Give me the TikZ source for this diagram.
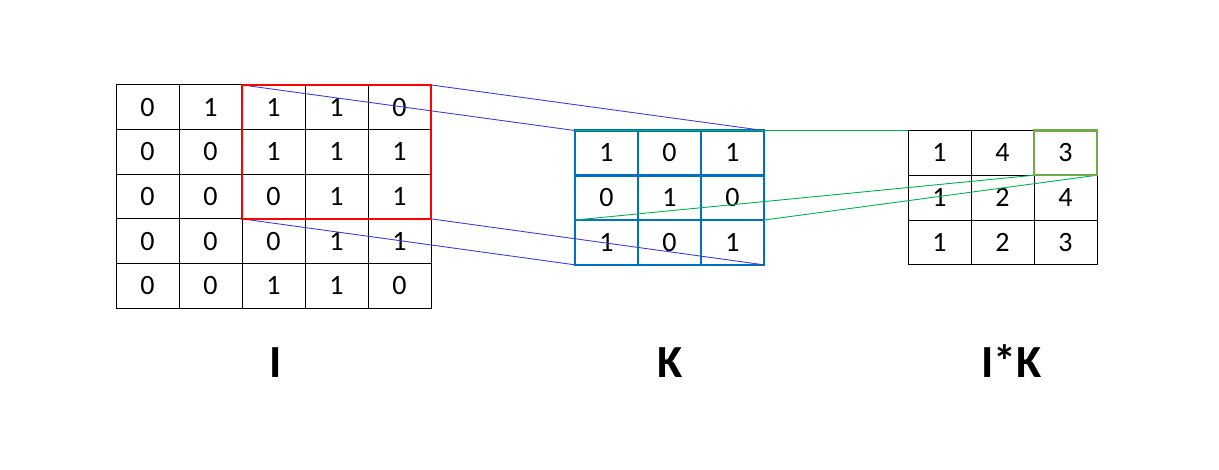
\documentclass[tikz,border=0pt]{standalone}
\usepackage{fontspec}
\setmainfont{Carlito}
\definecolor{kblue}{HTML}{0070C0}
\definecolor{lblue}{RGB}{64,64,204}
\definecolor{gbox}{HTML}{70AD47}
\definecolor{glines}{HTML}{00B050}
\begin{document}
\begin{tikzpicture}[x=1pt,y=-1pt,
  cell/.style={draw=black,line width=1pt,minimum width=63pt,minimum height=44.7pt,inner sep=0pt,outer sep=0pt,font=\fontsize{28}{34}\selectfont},
  kcell/.style={cell,draw=kblue,line width=2.5pt},
  lbl/.style={anchor=base,inner sep=0pt,font=\fontsize{46}{50}\selectfont\bfseries},
  mapline/.style={lblue,line width=0.9pt},
  gline/.style={glines,line width=0.9pt}]
\useasboundingbox (0,0) rectangle (1219,470);
% grid I
\foreach \row [count=\r] in {{0,1,1,1,0},{0,0,1,1,1},{0,0,0,1,1},{0,0,0,1,1},{0,0,1,1,0}}{
  \foreach \v [count=\c] in \row {
    \node[cell] (i-\r-\c) at ({116+63*(\c-0.5)},{85+44.6*(\r-0.5)}) {\v};
  }
}
% grid K
\foreach \row [count=\r] in {{1,0,1},{0,1,0},{1,0,1}}{
  \foreach \v [count=\c] in \row {
    \node[kcell] (k-\r-\c) at ({575+63*(\c-0.5)},{130.5+44.8*(\r-0.5)}) {\v};
  }
}
% grid O
\foreach \row [count=\r] in {{1,4,3},{1,2,4},{1,2,3}}{
  \foreach \v [count=\c] in \row {
    \node[cell] (o-\r-\c) at ({908+63*(\c-0.5)},{130.5+44.8*(\r-0.5)}) {\v};
  }
}
% connectors I -> K
\draw[mapline] (i-1-3.north west) -- (k-1-1.north west);
\draw[mapline] (i-1-5.north east) -- (k-1-3.north east);
\draw[mapline] (i-3-3.south west) -- (k-3-1.south west);
\draw[mapline] (i-3-5.south east) -- (k-3-3.south east);
% connectors K -> O
\draw[gline] (k-1-1.north west) -- (o-1-1.north west);
\draw[gline] (k-2-1.south west) -- (o-1-3.south west);
\draw[gline] (k-2-3.south east) -- (o-1-3.south east);
% highlight boxes
\draw[red,line width=2.2pt] (i-1-3.north west) rectangle (i-3-5.south east);
\draw[gbox,line width=2.2pt] (o-1-3.north west) rectangle (o-1-3.south east);
% labels
\node[lbl] (li) at (275.7,378) {I};
\node[lbl] (lk) at (670,378) {K};
\node[lbl] (lik) at (1011.7,378) {I*K};
\end{tikzpicture}
\end{document}
